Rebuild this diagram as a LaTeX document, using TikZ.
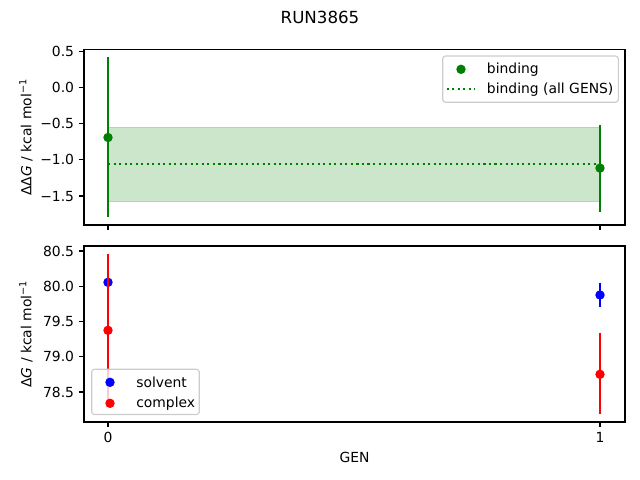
\documentclass[tikz,border=0pt]{standalone}
\usepackage{fontspec}
\setmainfont{DejaVu Sans}
\definecolor{mgreen}{RGB}{0,128,0}
\definecolor{mblue}{RGB}{0,0,255}
\definecolor{mred}{RGB}{255,0,0}
\definecolor{bandfill}{RGB}{204,230,204}
\definecolor{bandedge}{RGB}{175,215,175}
\definecolor{legedge}{RGB}{204,204,204}
\tikzset{
  axisbox/.style={draw=black, line width=0.8pt},
  tickmark/.style={draw=black, line width=0.8pt},
  ylab/.style={anchor=east, inner sep=0pt, font=\fontsize{10}{12}\selectfont},
  xlab/.style={anchor=north, inner sep=0pt, font=\fontsize{10}{12}\selectfont},
  errbar/.style={line width=1.5pt},
  dot/.style={circle, inner sep=0pt, minimum size=6.8pt},
  legbox/.style={draw=legedge, fill=white, fill opacity=0.8, line width=0.8pt, rounded corners=2pt},
  legtext/.style={anchor=west, inner sep=0pt, font=\fontsize{10}{12}\selectfont},
  axlabel/.style={inner sep=0pt, font=\fontsize{10}{12}\selectfont},
}
\begin{document}
\begin{tikzpicture}[x=0.72pt, y=-0.72pt]
\useasboundingbox (0,0) rectangle (640,480);
% title
\node[axlabel, font=\fontsize{12}{14}\selectfont] (title) at (320,17) {RUN3865};

% ---------- top axes ----------
\fill[bandfill] (108,127.5) rectangle (600,201.7);
\draw[bandedge, line width=0.6pt] (108,127.5) rectangle (600,201.7);
\coordinate (d0) at (108,164.3);
\coordinate (d1) at (600,164.3);
\draw[mgreen, line width=1.5pt, dash pattern=on 1.5pt off 2.475pt] (d0) -- (d1);
\coordinate (g0t) at (108,57.2);
\coordinate (g0b) at (108,216.7);
\coordinate (g1t) at (600,125.2);
\coordinate (g1b) at (600,211.7);
\draw[errbar, mgreen] (g0t) -- (g0b);
\draw[errbar, mgreen] (g1t) -- (g1b);
\node[dot, fill=mgreen] (g0) at (108,137.5) {};
\node[dot, fill=mgreen] (g1) at (600,168.1) {};
\draw[axisbox] (84,49.3) rectangle (625,225);
% y ticks
\foreach \yy/\lab in {51.45/0.5, 87.6/0.0, 123.75/−0.5, 159.9/−1.0, 196.05/−1.5}{
  \draw[tickmark] (84,\yy) -- (79.1,\yy);
  \node[ylab] at (74.3,\yy) {\lab};
}
% x ticks (no labels)
\draw[tickmark] (108,225) -- (108,229.9);
\draw[tickmark] (600,225) -- (600,229.9);
\node[axlabel, rotate=90] (ylabtop) at (26,137.2) {ΔΔ\textit{G} / kcal mol\textsuperscript{−1}};
% legend top
\draw[legbox] (442.7,56) rectangle (618.3,102.3);
\node[dot, fill=mgreen] (lg1) at (461,69.3) {};
\node[legtext] (lt1) at (486.7,69.3) {binding};
\coordinate (lda) at (446.7,89.3);
\coordinate (ldb) at (475,89.3);
\draw[mgreen, line width=1.5pt, dash pattern=on 1.5pt off 2.475pt] (lda) -- (ldb);
\node[legtext] (lt2) at (486.7,89.3) {binding (all GENS)};

% ---------- bottom axes ----------
\coordinate (b0t) at (108,279.2);
\coordinate (b0b) at (108,285.4);
\draw[errbar, mblue] (b0t) -- (b0b);
\node[dot, fill=mblue] (b0) at (108,282.3) {};
\coordinate (b1t) at (600,282.7);
\coordinate (b1b) at (600,306.7);
\draw[errbar, mblue] (b1t) -- (b1b);
\node[dot, fill=mblue] (b1) at (600,295) {};
\coordinate (r0t) at (108,254);
\coordinate (r0b) at (108,406.6);
\coordinate (r1t) at (600,332.7);
\coordinate (r1b) at (600,414);
\draw[errbar, mred] (r0t) -- (r0b);
\draw[errbar, mred] (r1t) -- (r1b);
\node[dot, fill=mred] (r0) at (108,330.3) {};
\node[dot, fill=mred] (r1) at (600,374.3) {};
\draw[axisbox] (84,246) rectangle (625,422);
\foreach \yy/\lab in {250.95/80.5, 286.2/80.0, 321.45/79.5, 356.7/79.0, 391.95/78.5}{
  \draw[tickmark] (84,\yy) -- (79.1,\yy);
  \node[ylab] at (74.3,\yy) {\lab};
}
\draw[tickmark] (108,422) -- (108,426.9);
\draw[tickmark] (600,422) -- (600,426.9);
\node[xlab] (x0) at (108,431.7) {0};
\node[xlab] (x1) at (600,431.7) {1};
\node[axlabel] (xlabel) at (354.5,457) {GEN};
\node[axlabel, rotate=90] (ylabbot) at (26,334) {Δ\textit{G} / kcal mol\textsuperscript{−1}};
% legend bottom
\draw[legbox] (91.7,369.3) rectangle (199.3,414.5);
\node[dot, fill=mblue] (lb1) at (110,382.3) {};
\node[legtext] (lbt1) at (136,382.3) {solvent};
\node[dot, fill=mred] (lb2) at (110,403.3) {};
\node[legtext] (lbt2) at (136,403.3) {complex};
\end{tikzpicture}
\end{document}
